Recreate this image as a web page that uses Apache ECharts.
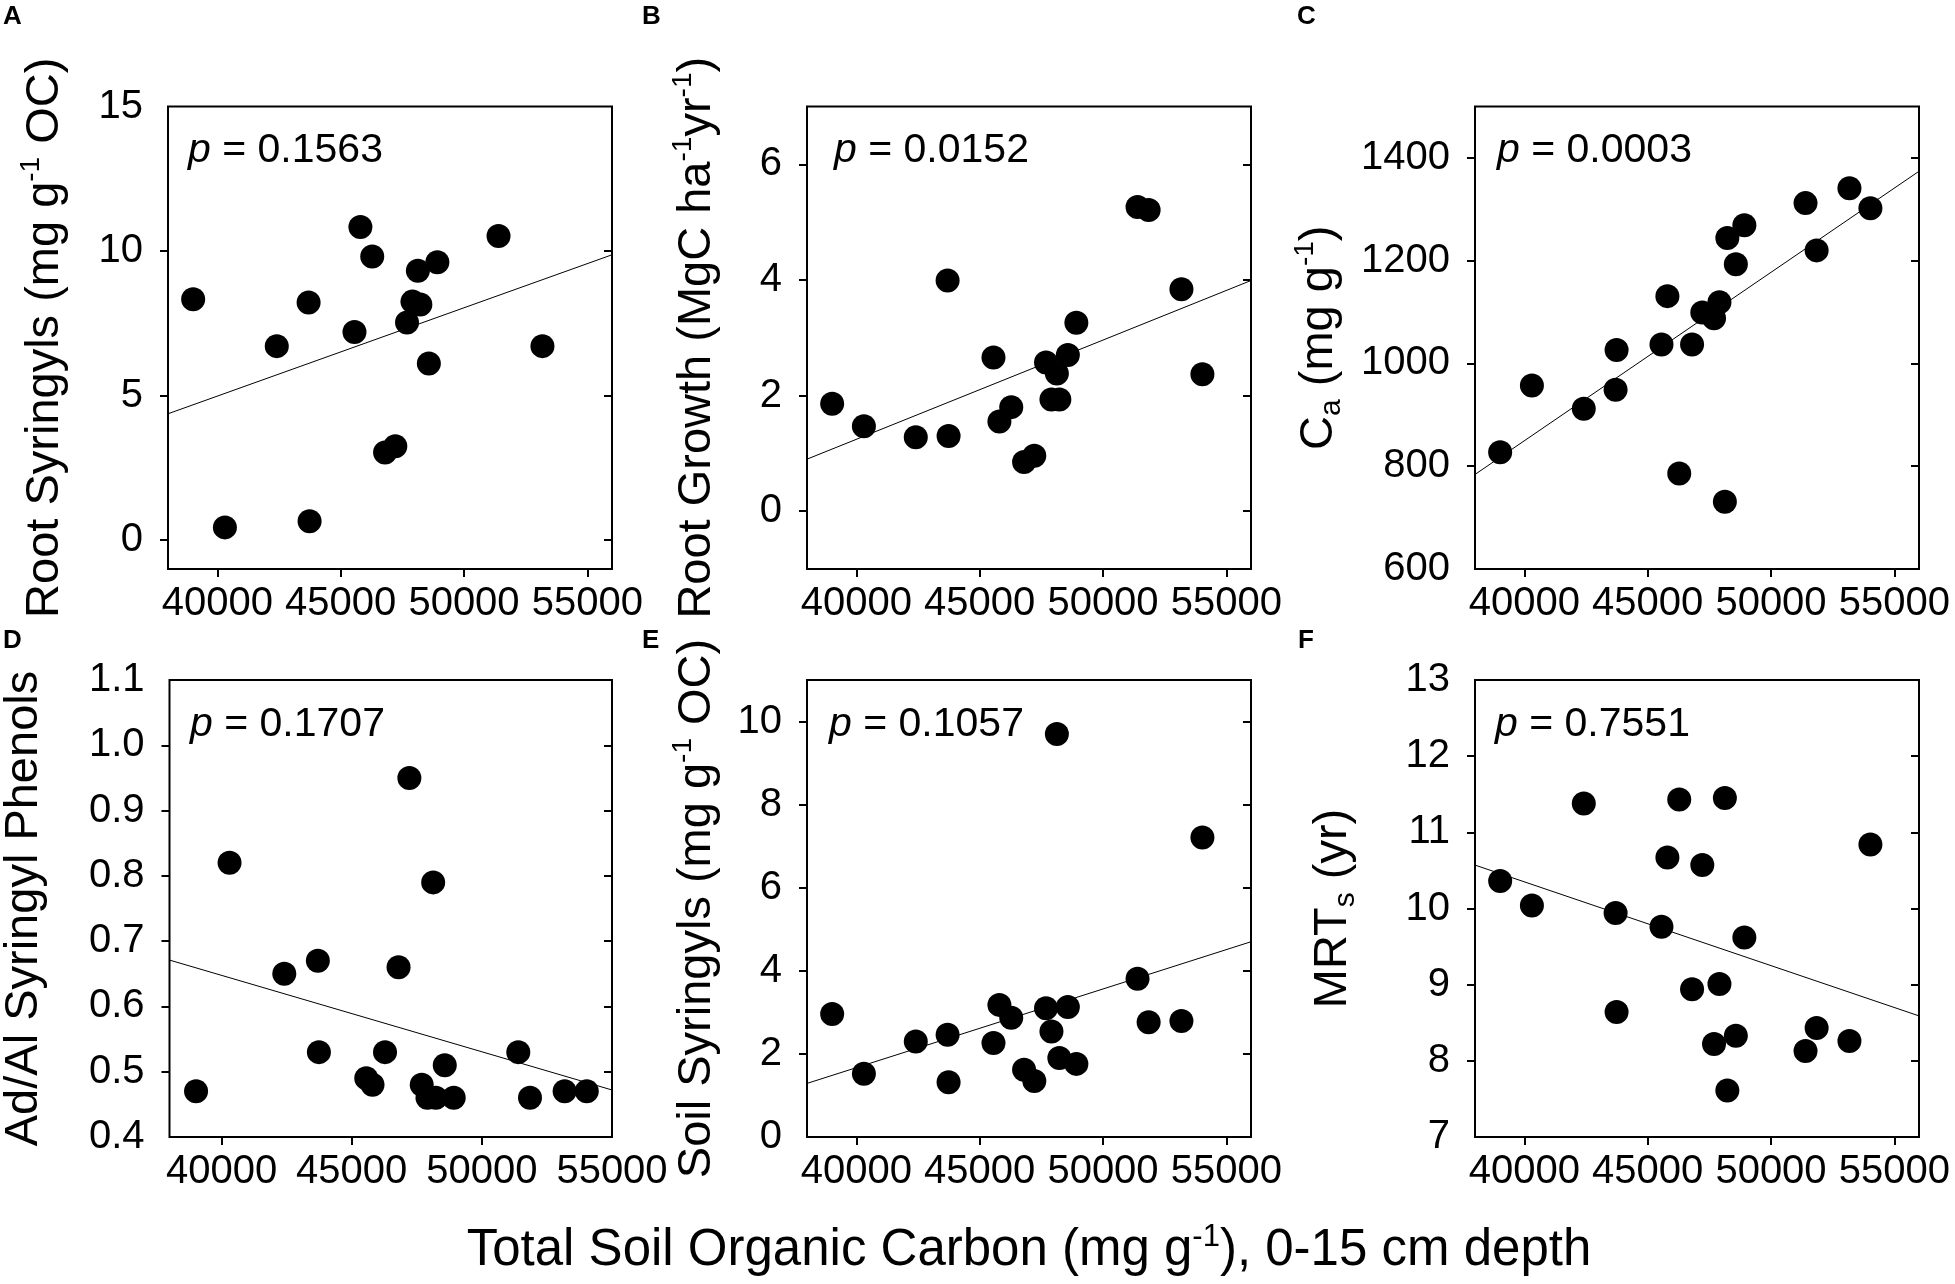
<!DOCTYPE html>
<html>
<head>
<meta charset="UTF-8">
<title>Soil organic carbon correlations</title>
<script src="https://cdn.jsdelivr.net/npm/echarts@6.0.0/dist/echarts.min.js"></script>
<style>
  html, body { margin: 0; padding: 0; background: #fff; }
  #chart { width: 1955px; height: 1284px; }
</style>
</head>
<body>
<div id="chart"></div>
<script>
// total soil organic carbon (mg g-1), 0-15 cm, one value per site
var soc = [39020, 40307, 42410, 43700, 43740, 45560, 45800, 46280, 46800, 47215,
           47690, 47910, 48130, 48230, 48575, 48920, 51400, 51850, 53180, 54030];

// responses, same site order as soc (null = no data)
var rootSyringyls = [8.33, 0.44, 6.71, 8.22, 0.65, 7.20, 10.83, 9.81, 3.03, 3.25,
                     7.53, 8.25, 9.32, 8.15, 6.11, 9.61, 10.52, null, 6.71, null];
var rootGrowth    = [1.86, 1.47, 1.28, 3.99, 1.30, 2.66, 1.55, 1.80, 0.85, 0.96,
                     2.57, 1.93, 2.38, 1.93, 2.70, 3.26, 5.26, 5.21, 3.84, 2.37];
var ca            = [827, 957, 912, 949, 1026, 1037, 1131, 786, 1037, 1099,
                     1088, 1119, 731, 1244, 1193, 1269, 1312, 1220, 1341, 1302];
var adAl          = [0.47, 0.82, 0.65, 0.67, 0.53, 0.49, 0.48, 0.53, 0.66, 0.95,
                     0.48, 0.46, 0.79, 0.46, 0.51, 0.46, 0.53, 0.46, 0.47, 0.47];
var soilSyringyls = [2.96, 1.52, 2.30, 2.46, 1.32, 2.26, 3.18, 2.87, 1.62, 1.35,
                     3.10, 2.54, 9.70, 1.90, 3.13, 1.76, 3.81, 2.76, 2.79, 7.21];
var mrt           = [10.36, 10.04, 11.38, 9.94, 8.64, 9.76, 10.67, 11.43, 8.94, 10.57,
                     8.22, 9.01, 11.45, 7.61, 8.33, 9.62, 8.13, 8.43, 8.26, 10.84];

// fitted regression lines (end points)
var fitA = [[38000, 4.37], [56000, 9.87]];
var fitB = [[38000, 0.90], [56000, 3.99]];
var fitC = [[38000, 784], [56000, 1374]];
var fitD = [[38000, 0.671], [55000, 0.472]];
var fitE = [[38000, 1.29], [56000, 4.70]];
var fitF = [[38000, 10.57], [56000, 8.59]];

var pValues = ['0.1563', '0.0152', '0.0003', '0.1707', '0.1057', '0.7551'];

// tick labels
var xTicks  = [40000, 45000, 50000, 55000];
var yTicksA = [0, 5, 10, 15];
var yTicksB = [0, 2, 4, 6];
var yTicksC = [600, 800, 1000, 1200, 1400];
var yTicksD = [0.4, 0.5, 0.6, 0.7, 0.8, 0.9, 1.0, 1.1];
var yTicksE = [0, 2, 4, 6, 8, 10];
var yTicksF = [7, 8, 9, 10, 11, 12, 13];

var FONT = '"Liberation Sans", Arial, sans-serif';

var rich = {
    t:   { fontSize: 47, fontFamily: FONT, color: '#000', lineHeight: 56 },
    sup: { fontSize: 28, fontFamily: FONT, color: '#000', lineHeight: 30, verticalAlign: 'top' },
    sub: { fontSize: 30, fontFamily: FONT, color: '#000', lineHeight: 30, verticalAlign: 'bottom' }
};

function nm(parts) {
    return parts.map(function (p) { return '{' + p[0] + '|' + p[1] + '}'; }).join('');
}

var panels = [
    { letter: 'A', left: 168, top: 106.5, h: 462.5, ymin: -1, ymax: 15, xmax: 56000,
      y: rootSyringyls, fit: fitA, labels: yTicksA, dec: 0, gap: 95,
      name: nm([['t', 'Root Syringyls (mg g'], ['sup', '-1'], ['t', ' OC)']]) },
    { letter: 'B', left: 807, top: 106.5, h: 462.5, ymin: -1, ymax: 7, xmax: 56000,
      y: rootGrowth, fit: fitB, labels: yTicksB, dec: 0, gap: 82,
      name: nm([['t', 'Root Growth (MgC ha'], ['sup', '-1'], ['t', 'yr'], ['sup', '-1'], ['t', ')']]) },
    { letter: 'C', left: 1475, top: 106.5, h: 462.5, ymin: 600, ymax: 1500, xmax: 56000,
      y: ca, fit: fitC, labels: yTicksC, dec: 0, gap: 128,
      name: nm([['t', 'C'], ['sub', 'a'], ['t', ' (mg g'], ['sup', '-1'], ['t', ')']]) },
    { letter: 'D', left: 168, top: 680, h: 457, ymin: 0.4, ymax: 1.1, xmax: 55000,
      y: adAl, fit: fitD, labels: yTicksD, dec: 1, gap: 117,
      name: nm([['t', 'Ad/Al Syringyl Phenols']]) },
    { letter: 'E', left: 807, top: 680, h: 457, ymin: 0, ymax: 11, xmax: 56000,
      y: soilSyringyls, fit: fitE, labels: yTicksE, dec: 0, gap: 82,
      name: nm([['t', 'Soil Syringyls (mg g'], ['sup', '-1'], ['t', ' OC)']]) },
    { letter: 'F', left: 1475, top: 680, h: 457, ymin: 7, ymax: 13, xmax: 56000,
      y: mrt, fit: fitF, labels: yTicksF, dec: 0, gap: 114,
      name: nm([['t', 'MRT'], ['sub', 's'], ['t', ' (yr)']]) }
];

var grids = [], xAxes = [], yAxes = [], series = [], graphics = [];
var letterPos = [[3, 4], [642, 4], [1297, 4], [3, 628], [642, 628], [1298, 628]];
var pOffset = [20, 27, 22, 22, 22, 20];

panels.forEach(function (p, i) {
    grids.push({ left: p.left, top: p.top, width: 444, height: p.h,
                 show: true, borderColor: '#000', borderWidth: 2, backgroundColor: 'transparent' });

    var inner = p.labels.filter(function (v) { return v > p.ymin && v < p.ymax; });
    var xInner = xTicks.filter(function (v) { return v > 38000 && v < p.xmax; });

    xAxes.push({
        type: 'value', gridIndex: i, min: 38000, max: p.xmax, position: 'bottom',
        splitLine: { show: false }, axisLine: { show: false, onZero: false },
        axisTick: { show: true, inside: false, length: 8, customValues: xInner,
                    lineStyle: { color: '#000', width: 2 } },
        axisLabel: { customValues: xTicks, margin: 15, color: '#000', fontSize: 40, fontFamily: FONT,
                     formatter: function (v) { return String(v); } }
    });

    yAxes.push({
        type: 'value', gridIndex: i, min: p.ymin, max: p.ymax, position: 'left',
        splitLine: { show: false }, axisLine: { show: false, onZero: false },
        axisTick: { show: true, inside: false, length: 8, customValues: inner,
                    lineStyle: { color: '#000', width: 2 } },
        axisLabel: { customValues: p.labels, margin: 25, color: '#000', fontSize: 40, fontFamily: FONT,
                     formatter: function (v) { return v.toFixed(p.dec); } },
        name: p.name, nameLocation: 'middle', nameGap: p.gap,
        nameTextStyle: { rich: rich }
    });
    yAxes.push({
        type: 'value', gridIndex: i, min: p.ymin, max: p.ymax, position: 'right',
        splitLine: { show: false }, axisLine: { show: false, onZero: false }, axisLabel: { show: false },
        axisTick: { show: true, inside: true, length: 8, customValues: inner,
                    lineStyle: { color: '#000', width: 2 } }
    });

    series.push({
        type: 'line', xAxisIndex: i, yAxisIndex: i * 2, data: p.fit,
        symbol: 'none', silent: true, lineStyle: { color: '#000', width: 1, opacity: 1 }, z: 2
    });
    var pts = [];
    soc.forEach(function (x, k) { if (p.y[k] != null) pts.push([x, p.y[k]]); });
    series.push({
        type: 'scatter', xAxisIndex: i, yAxisIndex: i * 2, data: pts,
        symbol: 'circle', symbolSize: 24, silent: true,
        itemStyle: { color: '#000', opacity: 1 }, z: 3
    });

    graphics.push({
        type: 'text', left: letterPos[i][0], top: letterPos[i][1],
        style: { text: p.letter, fontSize: 26, fontWeight: 'bold', fontFamily: FONT, fill: '#000' }
    });
    graphics.push({
        type: 'text', left: p.left + pOffset[i], top: p.top + 24,
        style: { text: '{i|p} = ' + pValues[i], fontSize: 41, fontFamily: FONT, fill: '#000',
                 rich: { i: { fontStyle: 'italic', fontSize: 41, fontFamily: FONT, fill: '#000' } } }
    });
});

// shared x-axis title, centred under panel E
graphics.push({
    type: 'text', x: 1029, y: 1222,
    style: {
        text: nm([['t', 'Total Soil Organic Carbon (mg g'], ['sup', '-1'], ['t', '), 0-15 cm depth']]),
        textAlign: 'center', textVerticalAlign: 'top',
        rich: {
            t:   { fontSize: 51, fontFamily: FONT, fill: '#000', lineHeight: 58 },
            sup: { fontSize: 31, fontFamily: FONT, fill: '#000', lineHeight: 32, verticalAlign: 'top' }
        }
    }
});

var chart = echarts.init(document.getElementById('chart'));
chart.setOption({
    backgroundColor: '#fff',
    animation: false,
    grid: grids,
    xAxis: xAxes,
    yAxis: yAxes,
    series: series,
    graphic: graphics
});
</script>
</body>
</html>
